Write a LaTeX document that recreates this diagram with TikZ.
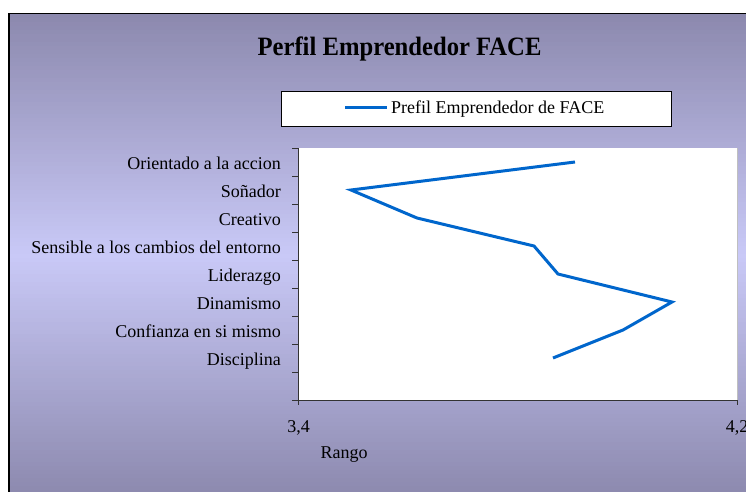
\documentclass[tikz,border=0pt]{standalone}
\usepackage{fontspec}
\setmainfont{Liberation Serif}
\definecolor{bgtop}{HTML}{8C89AE}
\definecolor{bgmid}{HTML}{C9C9F7}
\definecolor{bgbot}{HTML}{8E8BB0}
\definecolor{lineblue}{HTML}{0066CC}
\definecolor{axisgray}{HTML}{333333}
\begin{document}
\begin{tikzpicture}[x=1pt,y=-1pt,
  lbl/.style={font=\fontsize{18}{20}\selectfont, inner sep=0pt},
  axisline/.style={draw=axisgray, line width=1pt},
  dataline/.style={draw=lineblue, line width=3pt, line join=miter},
  legbox/.style={draw=black, fill=white, line width=0.8pt, minimum width=390pt, minimum height=35pt, inner sep=0pt}]
\useasboundingbox (0,0) rectangle (746,491);
\clip (0,0) rectangle (746,491);
\fill[white] (0,0) rectangle (746,491);
% chart area background (vertical gradient drawn as thin strips)
\foreach \i in {0,...,120} {
  \pgfmathsetmacro{\ya}{13.5+4*\i}
  \pgfmathtruncatemacro{\pc}{min(100,round(abs(\ya+2-255)/2.4))}
  \colorlet{stripcol}{bgtop!\pc!bgmid}
  \fill[stripcol] (9,\ya) rectangle (752,\ya+4.3);
}
\draw[black, line width=1.5pt] (9,497) -- (9,13.5) -- (752,13.5);
% title
\node[inner sep=0pt, anchor=base] (title) at (399.5,55) {\scalebox{0.93}[1]{\fontsize{26.5}{28}\selectfont\bfseries Perfil Emprendedor FACE}};
% legend
\node[legbox] (legend) at (476,108.5) {};
\coordinate (legA) at (345,107);
\coordinate (legB) at (387,107);
\draw[dataline] (legA) -- (legB);
\node[lbl, anchor=base west] (legtext) at (391,113) {Prefil Emprendedor de FACE};
% plot area
\fill[white] (298,148) rectangle (737,400);
\draw[draw=gray!50, line width=0.6pt] (737,148) -- (737,400);
\draw[axisline] (298,148) -- (298,400) -- (737,400);
\foreach \k in {0,...,9} {
  \draw[axisline] (292,148+28*\k) -- (298,148+28*\k);
}
\draw[axisline] (298,400) -- (298,405);
\draw[axisline] (737,400) -- (737,405);
% category labels
\node[lbl, anchor=base east] (c1) at (281,169) {Orientado a la accion};
\node[lbl, anchor=base east] (c2) at (281,197) {Soñador};
\node[lbl, anchor=base east] (c3) at (281,225) {Creativo};
\node[lbl, anchor=base east] (c4) at (281,253) {Sensible a los cambios del entorno};
\node[lbl, anchor=base east] (c5) at (281,281) {Liderazgo};
\node[lbl, anchor=base east] (c6) at (281,309) {Dinamismo};
\node[lbl, anchor=base east] (c7) at (281,337) {Confianza en si mismo};
\node[lbl, anchor=base east] (c8) at (281,365) {Disciplina};
% x axis labels
\node[lbl, anchor=base] (xmin) at (298.5,432.7) {3,4};
\node[lbl, anchor=base] (xmax) at (737,432.7) {4,2};
\node[lbl, anchor=base] (xtitle) at (344,458.3) {Rango};
% data
\coordinate (p1) at (575,162);
\coordinate (p2) at (351,190);
\coordinate (p3) at (417,218);
\coordinate (p4) at (534,246);
\coordinate (p5) at (558,274);
\coordinate (p6) at (672,302);
\coordinate (p7) at (623,330);
\coordinate (p8) at (553,358);
\draw[dataline] (p1) -- (p2) -- (p3) -- (p4) -- (p5) -- (p6) -- (p7) -- (p8);
\end{tikzpicture}
\end{document}
